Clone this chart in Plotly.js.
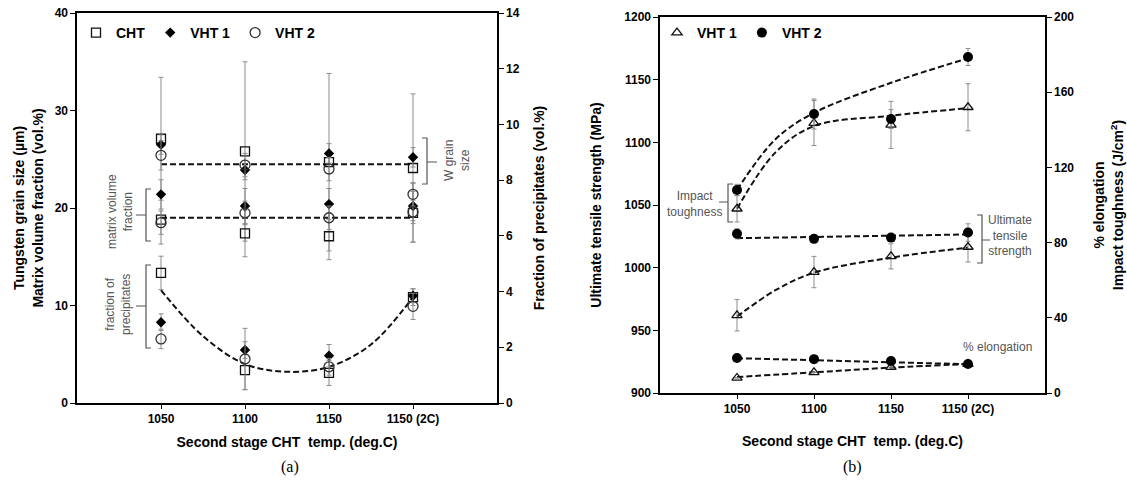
<!DOCTYPE html>
<html><head><meta charset="utf-8">
<script src="https://cdn.plot.ly/plotly-3.0.1.min.js"></script>
<style>html,body{margin:0;padding:0;background:#fff;}#chart{width:1127px;height:482px;}</style>
</head><body><div id="chart"></div>
<script>
// ---------- categories ----------
var catPos = [0, 1, 2, 3];
var catLabels = ["1050", "1100", "1150", "1150 (2C)"];

// ---------- panel (a): grain size (µm) and matrix vol. fraction (left axis) ----------
var chtGrain   = [27.1, 25.8, 24.7, 24.1];
var chtGrainErr= [6.3, 9.2, 9.1, 7.6];
var chtMatrix  = [18.8, 17.4, 17.1, 19.5];
var chtMatrixErr=[2.5, 2.4, 2.4, 3.0];
var vht1Grain  = [26.5, 23.9, 25.6, 25.2];
var vht1GrainErr=[1.0, 1.0, 1.0, 1.0];
var vht1Matrix = [21.4, 20.2, 20.4, 20.2];
var vht1MatrixErr=[1.5, 1.8, 1.6, 1.5];
var vht2Grain  = [25.4, 24.4, 24.0, 21.4];
var vht2GrainErr=[1.5, 1.2, 1.2, 1.2];
var vht2Matrix = [18.5, 19.5, 19.0, 19.6];
var vht2MatrixErr=[1.2, 1.2, 1.2, 1.2];
// fraction of precipitates (vol.%) (right axis)
var chtPrecip  = [4.67, 1.18, 1.08, 3.80];
var chtPrecipErr=[0.6, 0.7, 0.45, 0.3];
var vht1Precip = [2.90, 1.90, 1.70, 3.85];
var vht1PrecipErr=[0.3, 0.3, 0.4, 0.25];
var vht2Precip = [2.30, 1.58, 1.30, 3.47];
var vht2PrecipErr=[0.35, 1.1, 0.3, 0.47];
// trend lines
var grainFitX = [0, 3], grainFit = [24.5, 24.5];
var matrixFitX = [0, 3], matrixFit = [19.0, 19.0];
var precipFitX = [0, 0.5, 1, 1.5, 2, 2.5, 3];
var precipFit  = [4.05, 2.4, 1.4, 1.12, 1.3, 2.1, 3.8];

// ---------- panel (b) ----------
var vht1UTS = [962, 996.5, 1009, 1016.5];
var vht1UTSErr = [12.5, 12.5, 10, 12];
var vht2UTS = [1027, 1023, 1024, 1028];
var vht2UTSErr = [4, 3, 2, 7];
var vht1Impact = [98, 143.6, 142.6, 152];
var vht1ImpactErr = [7, 12, 12.5, 12.5];
var vht2Impact = [108, 148.4, 145.7, 178.7];
var vht2ImpactErr = [3, 8, 5, 4.5];
var vht1Elong = [8, 11, 13.8, 15.4];
var vht2Elong = [18.6, 18, 17, 15.4];
// trend lines
var utsFit1X = [0, 0.5, 1, 2, 3], utsFit1 = [961, 982, 996, 1008, 1016];
var utsFit2X = [0, 3], utsFit2 = [1023.5, 1026.5];
var impFit1X = [0, 0.5, 1, 2, 3], impFit1 = [98, 128, 142, 147.5, 151.5];
var impFit2X = [0, 0.5, 1, 2, 3], impFit2 = [108, 135, 149, 165, 178];
var elFit1X = [0, 1, 2, 3], elFit1 = [8.5, 11, 13.5, 15.4];
var elFit2X = [0, 3], elFit2 = [18.5, 15.3];

// ---------- helpers ----------
var W = 1127, H = 482;
function px(x){ return x / W; }
function py(y){ return 1 - y / H; }
var errStyle = {color: '#8c8c8c', thickness: 1, width: 2.5};
function err(arr){ return Object.assign({type: 'data', array: arr, visible: true}, errStyle); }
var dash = {color: '#111', width: 2, dash: '6px,3px'};

var traces = [];
// fit lines panel a
traces.push({x: grainFitX, y: grainFit, mode: 'lines', line: dash, xaxis: 'x', yaxis: 'y', showlegend: false, hoverinfo: 'skip'});
traces.push({x: matrixFitX, y: matrixFit, mode: 'lines', line: dash, xaxis: 'x', yaxis: 'y', showlegend: false, hoverinfo: 'skip'});
traces.push({x: precipFitX, y: precipFit, mode: 'lines', line: Object.assign({shape: 'spline'}, dash), xaxis: 'x', yaxis: 'y2', showlegend: false, hoverinfo: 'skip'});

var sqM = {symbol: 'square-open', size: 9, color: '#111', line: {width: 1.3}};
var diM = {symbol: 'diamond', size: 8, color: '#000'};
var ciM = {symbol: 'circle-open', size: 10, color: '#333', line: {width: 1.3}};

function two(a, b){ return a.concat(b); }
var x8 = two(catPos, catPos);
traces.push({name: 'CHT', x: x8, y: two(chtGrain, chtMatrix), error_y: err(two(chtGrainErr, chtMatrixErr)), mode: 'markers', marker: sqM, xaxis: 'x', yaxis: 'y', legend: 'legend'});
traces.push({name: 'VHT 1', x: x8, y: two(vht1Grain, vht1Matrix), error_y: err(two(vht1GrainErr, vht1MatrixErr)), mode: 'markers', marker: diM, xaxis: 'x', yaxis: 'y', legend: 'legend'});
traces.push({name: 'VHT 2', x: x8, y: two(vht2Grain, vht2Matrix), error_y: err(two(vht2GrainErr, vht2MatrixErr)), mode: 'markers', marker: ciM, xaxis: 'x', yaxis: 'y', legend: 'legend'});
traces.push({x: catPos, y: chtPrecip, error_y: err(chtPrecipErr), mode: 'markers', marker: sqM, xaxis: 'x', yaxis: 'y2', showlegend: false});
traces.push({x: catPos, y: vht1Precip, error_y: err(vht1PrecipErr), mode: 'markers', marker: diM, xaxis: 'x', yaxis: 'y2', showlegend: false});
traces.push({x: catPos, y: vht2Precip, error_y: err(vht2PrecipErr), mode: 'markers', marker: ciM, xaxis: 'x', yaxis: 'y2', showlegend: false});

// panel b fits
traces.push({x: utsFit1X, y: utsFit1, mode: 'lines', line: Object.assign({shape: 'spline'}, dash), xaxis: 'x2', yaxis: 'y3', showlegend: false, hoverinfo: 'skip'});
traces.push({x: utsFit2X, y: utsFit2, mode: 'lines', line: dash, xaxis: 'x2', yaxis: 'y3', showlegend: false, hoverinfo: 'skip'});
traces.push({x: impFit1X, y: impFit1, mode: 'lines', line: Object.assign({shape: 'spline'}, dash), xaxis: 'x2', yaxis: 'y4', showlegend: false, hoverinfo: 'skip'});
traces.push({x: impFit2X, y: impFit2, mode: 'lines', line: Object.assign({shape: 'spline'}, dash), xaxis: 'x2', yaxis: 'y4', showlegend: false, hoverinfo: 'skip'});
traces.push({x: elFit1X, y: elFit1, mode: 'lines', line: Object.assign({shape: 'spline'}, dash), xaxis: 'x2', yaxis: 'y4', showlegend: false, hoverinfo: 'skip'});
traces.push({x: elFit2X, y: elFit2, mode: 'lines', line: dash, xaxis: 'x2', yaxis: 'y4', showlegend: false, hoverinfo: 'skip'});

var trM = {symbol: 'triangle-up-open', size: 9, color: '#111', line: {width: 1.3}};
var fcM = {symbol: 'circle', size: 10, color: '#000'};
traces.push({name: 'VHT 1', x: catPos, y: vht1UTS, error_y: err(vht1UTSErr), mode: 'markers', marker: trM, xaxis: 'x2', yaxis: 'y3', legend: 'legend2'});
traces.push({name: 'VHT 2', x: catPos, y: vht2UTS, error_y: err(vht2UTSErr), mode: 'markers', marker: fcM, xaxis: 'x2', yaxis: 'y3', legend: 'legend2'});
traces.push({x: x8, y: two(vht1Impact, vht1Elong), error_y: err(two(vht1ImpactErr, [0,0,0,0])), mode: 'markers', marker: trM, xaxis: 'x2', yaxis: 'y4', showlegend: false});
traces.push({x: x8, y: two(vht2Impact, vht2Elong), error_y: err(two(vht2ImpactErr, [0,0,0,0])), mode: 'markers', marker: fcM, xaxis: 'x2', yaxis: 'y4', showlegend: false});

var F = 'Liberation Sans, Arial, sans-serif';
var tickF = {family: F, size: 12, color: '#000', weight: 'bold'};
var titleF = {family: F, size: 14, color: '#000', weight: 'bold'};
function xax(dom, anchor, standoff){
  return {domain: dom, anchor: anchor, range: [-1, 4], tickvals: catPos, ticktext: catLabels,
    showline: true, mirror: true, linecolor: '#000', linewidth: 1.6, ticks: 'outside', ticklen: 4,
    tickcolor: '#000', showgrid: false, zeroline: false, tickfont: tickF,
    title: {text: 'Second stage CHT  temp. (deg.C)', font: titleF, standoff: standoff}};
}
function yax(dom, anchor, range, dtick, title, side, standoff){
  return {domain: dom, anchor: anchor, range: range, dtick: dtick, side: side || 'left',
    showline: true, linecolor: '#000', linewidth: 1.6, ticks: 'outside', ticklen: 5,
    tickcolor: '#000', showgrid: false, zeroline: false, tickfont: tickF,
    title: {text: title, font: titleF, standoff: standoff}};
}
var domA = [px(77), px(497)], domAy = [py(403), py(13)];
var domB = [px(660), px(1045)], domBy = [py(393), py(17)];
var yA = yax(domAy, 'x', [0, 40], 10, 'Tungsten grain size (µm)<br>Matrix volume fraction (vol.%)', 'left', 8);
var yA2 = yax(domAy, 'x', [0, 14], 2, 'Fraction of precipitates (vol.%)', 'right', 15); yA2.overlaying = 'y';
var yB = yax(domBy, 'x2', [900, 1200], 50, 'Ultimate tensile strength (MPa)', 'left', 19);
var yB2 = yax(domBy, 'x2', [0, 200], 40, '% elongation<br>Impact toughness (J/cm<sup>2</sup>)', 'right', 21); yB2.overlaying = 'y3';

var gray = '#555';
function bracket(x, y0, y1, ym, endDir, midDir, endLen, midLen){
  var xe = x + endDir * endLen, xm = x + midDir * midLen;
  var path = 'M ' + px(xe) + ' ' + py(y0) + ' L ' + px(x) + ' ' + py(y0) + ' L ' + px(x) + ' ' + py(y1) + ' L ' + px(xe) + ' ' + py(y1) +
    ' M ' + px(x) + ' ' + py(ym) + ' L ' + px(xm) + ' ' + py(ym);
  return {type: 'path', xref: 'paper', yref: 'paper', path: path, line: {color: gray, width: 1.2}};
}
var shapes = [
  bracket(427, 138, 184, 162, -1, 1, 5, 10),
  bracket(146, 189, 241, 215, 1, -1, 5, 10),
  bracket(146, 265, 348, 306, 1, -1, 5, 10),
  bracket(728, 184, 222, 202, 1, -1, 5, 9),
  bracket(982, 215, 263, 240, -1, 1, 5, 8)
];
var noteF = {family: F, size: 12, color: '#555'};
function note(x, y, text, angle, font){
  return {xref: 'paper', yref: 'paper', x: px(x), y: py(y), xanchor: 'center', yanchor: 'middle',
    text: text, showarrow: false, textangle: angle || 0, font: font || noteF};
}
var serif = {family: 'Liberation Serif, Times New Roman, serif', size: 16, color: '#000'};
var annotations = [
  note(457, 160, 'W grain<br>size', -90),
  note(120, 212, 'matrix volume<br>fraction', -90),
  note(118, 305, 'fraction of<br>precipitates', -90),
  note(694, 204, 'Impact<br>toughness'),
  note(1010, 235, 'Ultimate<br>tensile<br>strength'),
  note(997, 347, '% elongation'),
  note(290, 467, '(a)', 0, serif),
  note(852, 467, '(b)', 0, serif)
];
var legF = {family: F, size: 14, color: '#000', weight: 'bold'};
var layout = {
  width: W, height: H, margin: {l: 0, r: 0, t: 0, b: 0},
  paper_bgcolor: '#fff', plot_bgcolor: '#fff',
  xaxis: xax(domA, 'y', 12), yaxis: yA, yaxis2: yA2,
  xaxis2: xax(domB, 'y3', 21), yaxis3: yB, yaxis4: yB2,
  legend: {x: px(76), y: py(17), xanchor: 'left', yanchor: 'top', orientation: 'h', font: legF, bgcolor: 'rgba(0,0,0,0)', itemwidth: 30, tracegroupgap: 0},
  legend2: {x: px(657), y: py(17), xanchor: 'left', yanchor: 'top', orientation: 'h', font: legF, bgcolor: 'rgba(0,0,0,0)', itemwidth: 30},
  shapes: shapes, annotations: annotations
};
Plotly.newPlot('chart', traces, layout, {displayModeBar: false, staticPlot: true});
</script></body></html>
